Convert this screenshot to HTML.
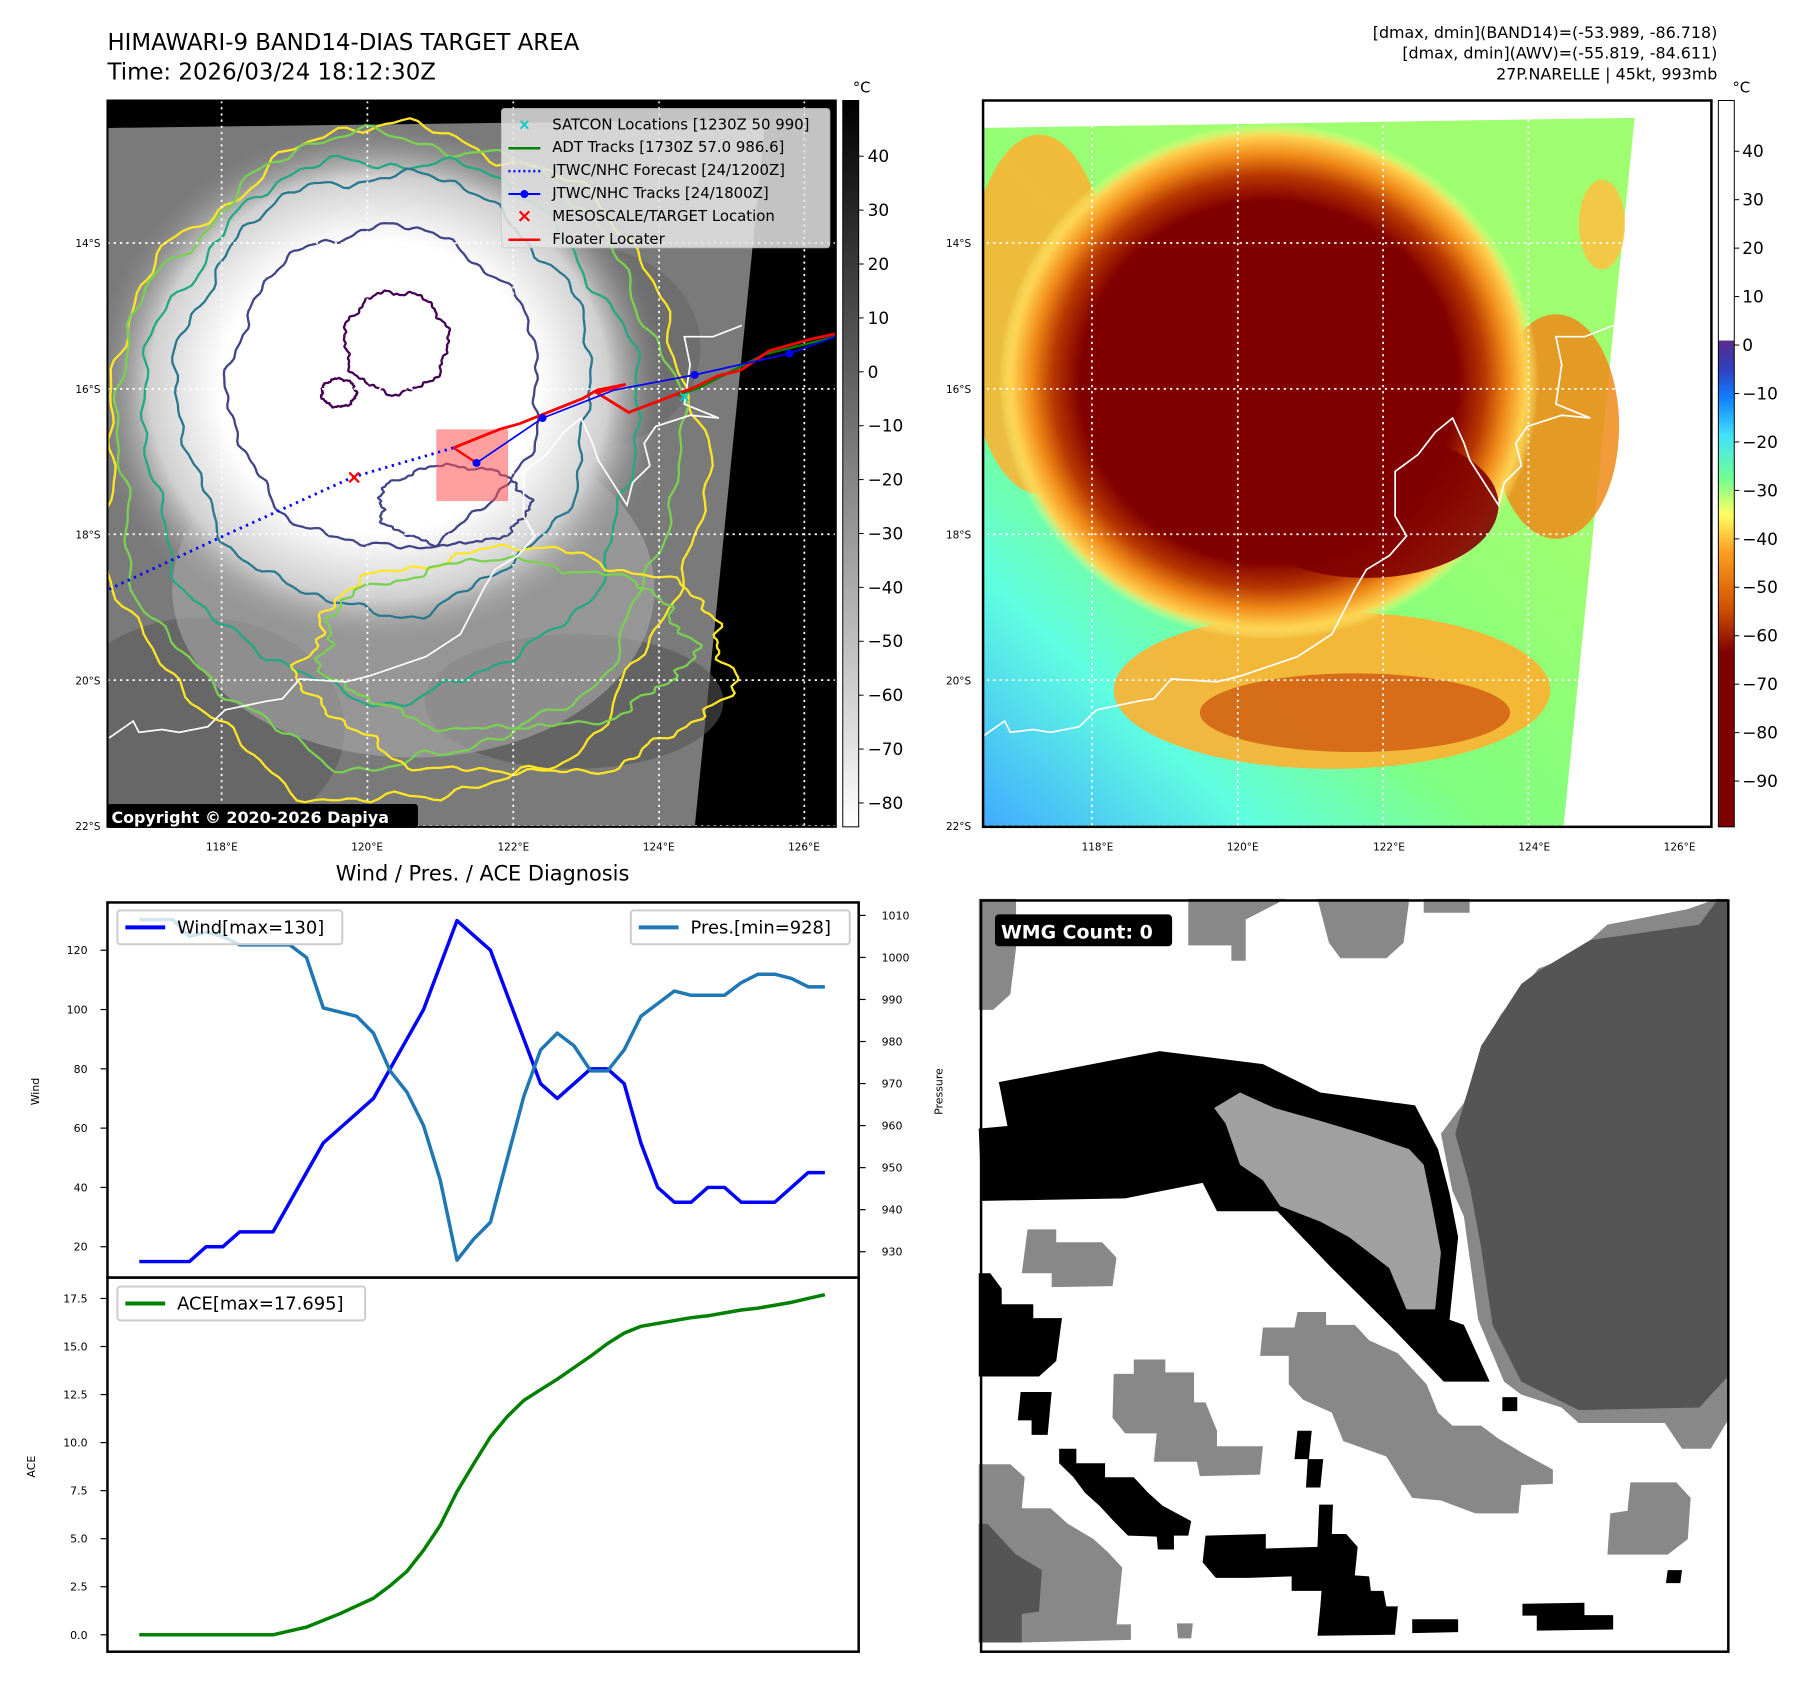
<!DOCTYPE html>
<html><head><meta charset="utf-8"><style>
html,body{margin:0;padding:0;background:#fff;}
svg{display:block;font-family:"DejaVu Sans","Liberation Sans",sans-serif;}
</style></head><body>
<svg id="root" width="1801" height="1690" viewBox="0 0 1801 1690" xmlns="http://www.w3.org/2000/svg">
<defs>
<linearGradient id="cb1" x1="0" y1="0" x2="0" y2="1"><stop offset="0" stop-color="#000"/><stop offset="1" stop-color="#fff"/></linearGradient>
<linearGradient id="cb2" x1="0" y1="0" x2="0" y2="1">
<stop offset="0" stop-color="#fff"/><stop offset="0.33" stop-color="#fff"/><stop offset="0.331" stop-color="#5a2a8a"/>
<stop offset="0.37" stop-color="#3040c0"/><stop offset="0.41" stop-color="#1080ff"/><stop offset="0.46" stop-color="#40e0ff"/>
<stop offset="0.52" stop-color="#70ff90"/><stop offset="0.57" stop-color="#ffff60"/><stop offset="0.62" stop-color="#ffa020"/>
<stop offset="0.70" stop-color="#d05000"/><stop offset="0.76" stop-color="#800000"/><stop offset="1" stop-color="#800000"/></linearGradient>
<radialGradient id="blob1" cx="0.5" cy="0.5" r="0.5"><stop offset="0" stop-color="#fff"/><stop offset="0.55" stop-color="#fff"/><stop offset="0.8" stop-color="#d0d0d0"/><stop offset="1" stop-color="#8a8a8a" stop-opacity="0"/></radialGradient>
<radialGradient id="blob2" cx="0.5" cy="0.5" r="0.5"><stop offset="0" stop-color="#800000"/><stop offset="0.7" stop-color="#800000"/><stop offset="0.8" stop-color="#b83800"/><stop offset="0.88" stop-color="#f08a18"/><stop offset="0.95" stop-color="#ffd050"/><stop offset="1" stop-color="#ffff80" stop-opacity="0"/></radialGradient>
<linearGradient id="bg2" x1="0" y1="1" x2="0.6" y2="0.3"><stop offset="0" stop-color="#40a8ff"/><stop offset="0.3" stop-color="#60ffe0"/><stop offset="0.55" stop-color="#80ff80"/><stop offset="1" stop-color="#a0ff70"/></linearGradient>
<clipPath id="clip1"><rect x="108" y="101" width="732" height="730"/></clipPath>
<clipPath id="clip2"><rect x="988" y="101" width="732" height="730"/></clipPath>
</defs>
<g transform="scale(0.995)">
<text x="108" y="50" font-size="23">HIMAWARI-9 BAND14-DIAS TARGET AREA</text>
<text x="108" y="80" font-size="23">Time: 2026/03/24 18:12:30Z</text>
<g font-size="16" text-anchor="end">
<text x="1726" y="38">[dmax, dmin](BAND14)=(-53.989, -86.718)</text>
<text x="1726" y="59">[dmax, dmin](AWV)=(-55.819, -84.611)</text>
<text x="1726" y="80">27P.NARELLE | 45kt, 993mb</text>
</g>

<!-- MAP 1 -->
<g clip-path="url(#clip1)">
<rect x="108" y="101" width="732" height="730" fill="#000"/>
<g transform="scale(0.577,0.564)">
<polygon points="187,228 1333,213 1210,1475 187,1475" fill="#7a7a7a"/>
<ellipse cx="350" cy="1300" rx="250" ry="200" fill="#5a5a5a" opacity="0.6"/>
<ellipse cx="1000" cy="1250" rx="260" ry="120" fill="#555" opacity="0.6"/>
<ellipse cx="1020" cy="620" rx="200" ry="180" fill="#666" opacity="0.6"/>
<ellipse cx="720" cy="1050" rx="420" ry="300" fill="#a8a8a8" opacity="0.6"/>
<ellipse cx="660" cy="690" rx="500" ry="470" fill="url(#blob1)"/>
<g id="contours1" fill="none" stroke-width="4"></g>
<path transform="translate(42,0)" d="M148,1315 L190,1285 L200,1305 L240,1300 L270,1305 L320,1295 L350,1265 L420,1250 L450,1245 L480,1210 L560,1215 L600,1205 L700,1170 L760,1130 L800,1050 L820,1015 L860,990 L890,955 L870,920 L870,840 L910,810 L940,770 L970,745 L990,790 L1000,820 L1050,900 L1060,860 L1090,830 L1080,790 L1100,760 L1160,740 L1210,745 L1150,720 L1160,650 L1150,600 L1200,600 L1250,580" fill="none" stroke="#fff" stroke-width="3"/>
<g stroke="#fff" stroke-width="3" stroke-dasharray="4,7">
<line x1="386" y1="180" x2="386" y2="1475"/><line x1="640" y1="180" x2="640" y2="1475"/><line x1="894" y1="180" x2="894" y2="1475"/><line x1="1148" y1="180" x2="1148" y2="1475"/><line x1="1401" y1="180" x2="1401" y2="1475"/>
<line x1="187" y1="433" x2="1460" y2="433"/><line x1="187" y1="693" x2="1460" y2="693"/><line x1="187" y1="952" x2="1460" y2="952"/><line x1="187" y1="1212" x2="1460" y2="1212"/><line x1="187" y1="1472" x2="1460" y2="1472"/>
</g>
<rect x="760" y="765" width="125" height="128" fill="#ff5050" opacity="0.55"/>
<polyline points="190,1050 400,950 615,850 790,798" fill="none" stroke="#00f" stroke-width="5" stroke-dasharray="4,8"/>
<polyline points="1180,705 1220,690 1330,632 1455,600" fill="none" stroke="#008000" stroke-width="4"/>
<polyline points="790,798 870,765 905,755 1015,710 1040,695 1090,685 1040,700 1095,735 1210,690 1250,670 1290,660 1340,625 1410,605 1455,595" fill="none" stroke="#f00" stroke-width="5"/>
<polyline points="790,798 830,825" fill="none" stroke="#f00" stroke-width="4"/>
<polyline points="830,825 945,745 1070,695 1210,668 1375,630 1455,600" fill="none" stroke="#00f" stroke-width="3"/>
<g fill="#00f"><circle cx="830" cy="825" r="7"/><circle cx="945" cy="745" r="7"/><circle cx="1210" cy="668" r="7"/><circle cx="1375" cy="630" r="7"/></g>
<text x="617" y="862" font-size="34" fill="#f00" text-anchor="middle" font-weight="bold">×</text>
<text x="1192" y="716" font-size="28" fill="#0cc" text-anchor="middle" font-weight="bold">×</text>
</g>
</g>
<g>
<rect x="504" y="109" width="330" height="140" rx="3" fill="#e6e6e6" opacity="0.85" stroke="#ccc"/>
<g font-size="15">
<text x="527" y="130" fill="#0cc" text-anchor="middle" font-weight="bold">×</text><text x="555" y="130">SATCON Locations [1230Z 50 990]</text>
<line x1="511" y1="149" x2="543" y2="149" stroke="#008000" stroke-width="2.5"/><text x="555" y="153">ADT Tracks [1730Z 57.0 986.6]</text>
<line x1="511" y1="172" x2="543" y2="172" stroke="#00f" stroke-width="2.5" stroke-dasharray="2,3"/><text x="555" y="176">JTWC/NHC Forecast [24/1200Z]</text>
<line x1="511" y1="195" x2="543" y2="195" stroke="#00f" stroke-width="2"/><circle cx="527" cy="195" r="4" fill="#00f"/><text x="555" y="199">JTWC/NHC Tracks [24/1800Z]</text>
<text x="527" y="223" fill="#f00" text-anchor="middle" font-weight="bold" font-size="19">×</text><text x="555" y="222">MESOSCALE/TARGET Location</text>
<line x1="511" y1="241" x2="543" y2="241" stroke="#f00" stroke-width="2.5"/><text x="555" y="245">Floater Locater</text>
</g></g>
<rect x="108" y="101" width="732" height="730" fill="none" stroke="#000" stroke-width="2"/>
<rect x="108" y="808" width="312" height="24" rx="3" fill="#000"/>
<text x="112" y="827" font-size="16" font-weight="bold" fill="#fff">Copyright © 2020-2026 Dapiya</text>
<g font-size="10.5">
<g text-anchor="end"><text x="101" y="248">14°S</text><text x="101" y="395">16°S</text><text x="101" y="541">18°S</text><text x="101" y="688">20°S</text><text x="101" y="834">22°S</text></g>
<g text-anchor="middle"><text x="223" y="855">118°E</text><text x="369" y="855">120°E</text><text x="516" y="855">122°E</text><text x="662" y="855">124°E</text><text x="808" y="855">126°E</text></g>
</g>
<g>
<rect x="847" y="101" width="16" height="730" fill="url(#cb1)" stroke="#000" stroke-width="1"/>
<text x="866" y="93" font-size="15" text-anchor="middle">°C</text>
<g font-size="17" id="cb1labels"></g>
</g>

<!-- MAP 2 -->
<g clip-path="url(#clip2)">
<rect x="988" y="101" width="732" height="730" fill="#fff"/>
<g transform="translate(900,0) scale(0.5772,0.564)">
<polygon points="148,228 1287,210 1163,1475 148,1475" fill="url(#bg2)"/>
<ellipse cx="250" cy="560" rx="130" ry="320" fill="#ffb030" opacity="0.85"/>
<ellipse cx="760" cy="1230" rx="380" ry="140" fill="#ffb030" opacity="0.9"/>
<ellipse cx="800" cy="1270" rx="270" ry="70" fill="#d05a10" opacity="0.8"/>
<ellipse cx="1150" cy="760" rx="110" ry="200" fill="#f08a18" opacity="0.85"/>
<ellipse cx="1230" cy="400" rx="40" ry="80" fill="#ffc040" opacity="0.85"/>
<ellipse cx="650" cy="680" rx="470" ry="460" fill="url(#blob2)"/>
<ellipse cx="820" cy="900" rx="230" ry="130" fill="#800000" opacity="0.9"/>
<path d="M148,1315 L190,1285 L200,1305 L240,1300 L270,1305 L320,1295 L350,1265 L420,1250 L450,1245 L480,1210 L560,1215 L600,1205 L700,1170 L760,1130 L800,1050 L820,1015 L860,990 L890,955 L870,920 L870,840 L910,810 L940,770 L970,745 L990,790 L1000,820 L1050,900 L1060,860 L1090,830 L1080,790 L1100,760 L1160,740 L1210,745 L1150,720 L1160,650 L1150,600 L1200,600 L1250,580" fill="none" stroke="#fff" stroke-width="3"/>
<g stroke="#fff" stroke-width="3" stroke-dasharray="4,7">
<line x1="342" y1="180" x2="342" y2="1475"/><line x1="596" y1="180" x2="596" y2="1475"/><line x1="849" y1="180" x2="849" y2="1475"/><line x1="1102" y1="180" x2="1102" y2="1475"/>
<line x1="148" y1="433" x2="1413" y2="433"/><line x1="148" y1="693" x2="1413" y2="693"/><line x1="148" y1="952" x2="1413" y2="952"/><line x1="148" y1="1212" x2="1413" y2="1212"/><line x1="148" y1="1472" x2="1413" y2="1472"/>
</g>
</g>
</g>
<rect x="988" y="101" width="732" height="730" fill="none" stroke="#000" stroke-width="2.5"/>
<g font-size="10.5">
<g text-anchor="end"><text x="976" y="248">14°S</text><text x="976" y="395">16°S</text><text x="976" y="541">18°S</text><text x="976" y="688">20°S</text><text x="976" y="834">22°S</text></g>
<g text-anchor="middle"><text x="1103" y="855">118°E</text><text x="1249" y="855">120°E</text><text x="1396" y="855">122°E</text><text x="1542" y="855">124°E</text><text x="1688" y="855">126°E</text></g>
</g>
<g>
<rect x="1727" y="101" width="16" height="730" fill="url(#cb2)" stroke="#000" stroke-width="1"/>
<text x="1750" y="93" font-size="15" text-anchor="middle">°C</text>
<g font-size="17" id="cb2labels"></g>
</g>

<text x="485" y="885" font-size="21" text-anchor="middle">Wind / Pres. / ACE Diagnosis</text>
<g id="chart"></g>

<g>
<rect x="986" y="905" width="751" height="755" fill="#fff"/>
<g transform="translate(900,880) scale(0.577,0.519)">
<g fill="#888">
<polygon points="510,45 680,45 610,85 610,165 585,165 585,135 510,135"/>
<polygon points="735,45 895,45 885,130 855,160 775,160 755,130"/>
<polygon points="920,45 1000,45 1000,72 920,72"/>
<polygon points="145,45 210,45 210,140 200,230 170,260 145,260"/>
<polygon points="230,685 280,685 280,710 360,710 385,740 378,795 272,797 272,770 220,770"/>
<polygon points="640,875 695,875 700,845 750,845 750,870 800,870 825,900 875,925 900,955 925,985 945,1040 970,1065 1020,1065 1050,1090 1095,1120 1145,1150 1145,1178 1090,1180 1085,1235 1010,1235 950,1210 900,1205 880,1170 855,1125 780,1095 760,1040 710,1015 685,985 685,930 635,930"/>
<polygon points="380,965 415,965 415,937 470,937 470,962 520,962 520,1020 540,1020 560,1075 560,1105 640,1105 635,1160 530,1163 525,1135 450,1135 455,1080 400,1080 378,1050"/>
<polygon points="145,1140 200,1140 225,1165 220,1225 270,1225 300,1255 345,1285 370,1310 395,1340 385,1450 410,1450 410,1480 220,1485 145,1485"/>
<polygon points="1280,1175 1360,1175 1385,1205 1380,1285 1345,1315 1240,1315 1245,1235 1275,1230"/>
<polygon points="490,1448 518,1448 515,1477 492,1477"/>
<polygon points="950,500 990,440 1025,325 1055,268 1120,180 1180,155 1240,95 1380,65 1430,45 1450,45 1450,1055 1420,1110 1370,1110 1340,1060 1190,1060 1160,1030 1090,1005 1060,980 1015,860 990,660 970,610"/>
</g>
<g fill="#555">
<polygon points="975,500 1020,330 1055,270 1090,210 1120,185 1210,125 1400,95 1430,50 1450,50 1450,970 1400,1030 1190,1035 1090,980 1040,870 1020,720 1000,600"/>
<polygon points="145,1255 160,1255 185,1285 210,1315 255,1345 250,1425 220,1430 220,1485 145,1485"/>
</g>
<g fill="#000">
<polygon points="180,400 460,340 640,365 740,420 905,445 945,530 965,615 980,700 965,860 990,870 1035,980 955,980 860,870 760,760 665,650 560,650 535,595 400,625 150,630 145,490 195,485"/>
<polygon points="145,770 165,770 185,800 185,830 240,830 240,857 290,857 280,940 250,970 145,970"/>
<polygon points="218,1000 272,1000 265,1083 237,1083 237,1055 213,1055"/>
<polygon points="285,1110 315,1110 315,1138 365,1138 365,1165 415,1165 440,1195 465,1220 515,1250 510,1278 485,1278 485,1305 457,1305 455,1280 405,1278 380,1250 355,1220 330,1195 310,1165 285,1138"/>
<polygon points="540,1278 645,1275 645,1303 735,1300 738,1218 762,1218 760,1275 785,1275 805,1300 800,1355 825,1357 828,1385 850,1385 855,1415 875,1415 870,1470 735,1472 740,1415 742,1385 690,1385 690,1357 615,1360 558,1360 535,1330"/>
<polygon points="700,1075 725,1075 720,1130 745,1130 740,1185 715,1185 718,1130 695,1130"/>
<polygon points="900,1440 980,1440 980,1465 900,1467"/>
<polygon points="1092,1410 1200,1408 1200,1432 1250,1432 1250,1460 1117,1462 1117,1433 1092,1433"/>
<polygon points="1057,1010 1083,1010 1083,1037 1057,1037"/>
<polygon points="1345,1345 1370,1345 1367,1370 1342,1370"/>
</g>
<polygon points="555,450 600,420 660,450 740,475 815,500 895,530 920,560 935,640 950,730 940,840 890,840 860,760 790,700 740,670 670,640 640,590 600,560 575,480" fill="#a0a0a0"/>
</g>
<rect x="986" y="905" width="751" height="755" fill="none" stroke="#000" stroke-width="2.5"/>
<rect x="1000" y="919" width="178" height="32" rx="4" fill="#000"/>
<text x="1006" y="943" font-size="19" font-weight="bold" fill="#fff">WMG Count: 0</text>
</g>
</g>
</svg>
<script>
const windVals = [15,15,15,15,20,20,25,25,25,35,45,55,60,65,70,80,90,100,115,130,125,120,105,90,75,70,75,80,80,75,55,40,35,35,40,40,35,35,35,40,45,45];
const presVals = [1009,1009,1009,1005,1006,1005,1003,1003,1003,1003,1000,988,987,986,982,973,968,960,947,928,933,937,952,967,978,982,979,973,973,978,986,989,992,991,991,991,994,996,996,995,993,993];
const aceVals = [0,0,0,0,0,0,0,0,0,0.2,0.4,0.75,1.1,1.5,1.9,2.55,3.3,4.4,5.7,7.45,8.9,10.3,11.35,12.2,12.75,13.3,13.9,14.5,15.15,15.7,16.05,16.2,16.35,16.5,16.6,16.75,16.9,17.0,17.15,17.3,17.5,17.695];
const windTicks = [20,40,60,80,100,120];
const presTicks = [930,940,950,960,970,980,990,1000,1010];
const aceTicks = [0.0,2.5,5.0,7.5,10.0,12.5,15.0,17.5];
const cb1Ticks = [40,30,20,10,0,-10,-20,-30,-40,-50,-60,-70,-80];
const cb2Ticks = [40,30,20,10,0,-10,-20,-30,-40,-50,-60,-70,-80,-90];

const NS='http://www.w3.org/2000/svg';
function mk(tag, attrs, parent){const e=document.createElementNS(NS,tag);for(const k in attrs)e.setAttribute(k,attrs[k]);parent.appendChild(e);return e;}

const cg=document.getElementById('contours1');
function blob(cx,cy,rx,ry,amp,ph,color){
  let d='';const N=240;
  for(let i=0;i<=N;i++){const a=i/N*2*Math.PI;
    const r=1+amp*(0.5*Math.sin(7*a+ph)+0.3*Math.sin(13*a+2*ph)+0.2*Math.sin(29*a+ph*3)+0.12*Math.sin(53*a+ph));
    d+=(i?'L':'M')+(cx+rx*r*Math.cos(a)).toFixed(1)+','+(cy+ry*r*Math.sin(a)).toFixed(1);}
  const p=mk('path',{d:d+'Z',stroke:color},cg);
  
  
}
blob(700,830,520,600,0.05,1,'#fde725');
blob(690,800,490,560,0.05,2,'#7ad151');
blob(680,760,430,480,0.05,3,'#22a884');
blob(670,700,360,390,0.05,4,'#2a788e');
blob(670,690,270,285,0.05,5,'#414487');
blob(900,1180,370,200,0.08,6,'#fde725');
blob(880,1150,320,150,0.08,7,'#7ad151');
blob(790,900,130,70,0.08,8,'#414487');
blob(690,610,90,90,0.08,9,'#440154');
blob(590,700,30,25,0.1,1,'#440154');

const chart=document.getElementById('chart');
const X0=140, X1=829;
const xS=i=>X0+i*(X1-X0)/(windVals.length-1);
const yWind=v=>955+(120-v)*(1253-955)/100;
const yPres=v=>920+(1010-v)*(1258-920)/80;
const yAce=v=>1643-v*(1643-1305)/17.5;

const f1=mk('rect',{x:108,y:907,width:755,height:377,fill:'none',stroke:'#000','stroke-width':2.5},chart);


const f2=mk('rect',{x:108,y:1284,width:755,height:376,fill:'none',stroke:'#000','stroke-width':2.5},chart);



function ticksLeft(ticks,yf,fmt,name){
  const g=mk('g',{'font-size':11},chart);
  
  
  ticks.forEach(t=>{const y=yf(t);mk('line',{x1:101,x2:108,y1:y,y2:y,stroke:'#000','stroke-width':1.2},g);
    const tx=mk('text',{x:88,y:y+4,'text-anchor':'end'},g);tx.textContent=fmt(t);});
}
ticksLeft(windTicks,yWind,t=>String(t),'wind-y-axis');
ticksLeft(aceTicks,yAce,t=>t.toFixed(1),'ace-y-axis');
const gp=mk('g',{'font-size':11},chart);


presTicks.forEach(t=>{const y=yPres(t);mk('line',{x1:863,x2:870,y1:y,y2:y,stroke:'#000','stroke-width':1.2},gp);
  const tx=mk('text',{x:886,y:y+4},gp);tx.textContent=String(t);});

function axLabel(txt,x,y,name){const t=mk('text',{x:x,y:y,'font-size':11,'text-anchor':'middle',transform:`rotate(-90 ${x} ${y})`},chart);t.textContent=txt;
  
  }
axLabel('Wind',39,1097,'wind-axis-title');
axLabel('Pressure',947,1097,'pressure-axis-title');
axLabel('ACE',35,1474,'ace-axis-title');

function line(vals,yf,color,name){const pts=vals.map((v,i)=>xS(i).toFixed(1)+','+yf(v).toFixed(1)).join(' ');
  const p=mk('polyline',{points:pts,fill:'none',stroke:color,'stroke-width':3.5,'stroke-linejoin':'round'},chart);
  
  }
line(windVals,yWind,'#0000ff','wind-line');
line(presVals,yPres,'#1f77b4','pressure-line');
line(aceVals,yAce,'#008000','ace-line');

function legend(x,y,w,color,label,name){const g=mk('g',{},chart);
  
  
  mk('rect',{x:x,y:y,width:w,height:34,rx:3,fill:'#fff','fill-opacity':0.8,stroke:'#ccc','stroke-width':2},g);
  mk('line',{x1:x+8,x2:x+48,y1:y+17,y2:y+17,stroke:color,'stroke-width':4},g);
  const t=mk('text',{x:x+60,y:y+23,'font-size':18},g);t.textContent=label;}
legend(118,915,226,'#0000ff','Wind[max=130]','wind-legend');
legend(634,915,220,'#1f77b4','Pres.[min=928]','pressure-legend');
legend(118,1293,249,'#008000','ACE[max=17.695]','ace-legend');

const c1=document.getElementById('cb1labels');
cb1Ticks.forEach(t=>{const y=157+(40-t)*(807-157)/120;
  mk('line',{x1:863,x2:868,y1:y,y2:y,stroke:'#000'},c1);
  const tx=mk('text',{x:872,y:y+6},c1);tx.textContent=(t<0?'\u2212'+(-t):String(t));});
const c2=document.getElementById('cb2labels');
cb2Ticks.forEach(t=>{const y=152+(40-t)*(785-152)/130;
  mk('line',{x1:1743,x2:1748,y1:y,y2:y,stroke:'#000'},c2);
  const tx=mk('text',{x:1751,y:y+6},c2);tx.textContent=(t<0?'\u2212'+(-t):String(t));});
</script>
</body></html>
